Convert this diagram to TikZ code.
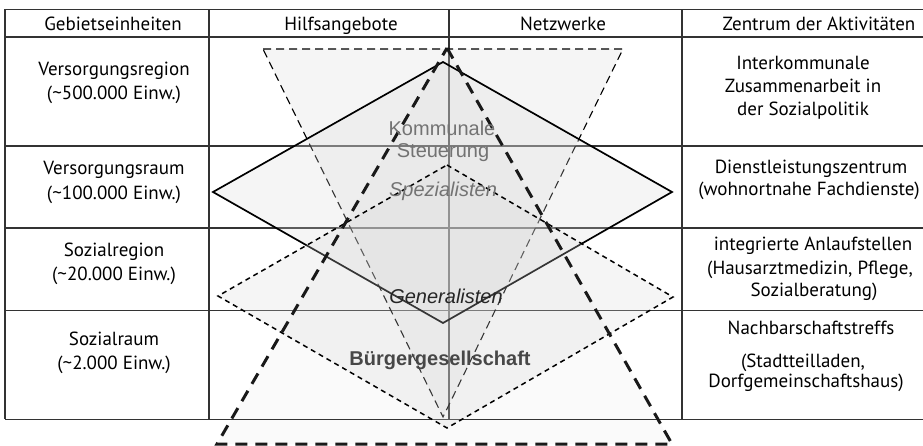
\documentclass[tikz,border=0pt]{standalone}
\usepackage{fontspec}
\setmainfont{PT Sans}
\newfontfamily\helv{Liberation Sans}
\usepackage[]{xcolor}
\usepackage[]{tikz}

\begin{document}
\begin{tikzpicture}[x=1pt,y=-1pt,
    tabline/.style={draw=black!80,line width=1.2pt},
    cell/.style={anchor=base,inner sep=0pt,text=black,font=\fontsize{19}{23}\selectfont},
    flaeche/.style={fill=black!15,fill opacity=0.25},
    mitte/.style={anchor=base,inner sep=0pt,font=\helv\fontsize{20}{24}\selectfont}]
    \useasboundingbox (0,0) rectangle (923,446);
    % 定点
    \coordinate (T1) at (447,48);
    \coordinate (T2) at (672,444);
    \coordinate (T3) at (217,444);
    \coordinate (V1) at (263,49);
    \coordinate (V2) at (623,49);
    \coordinate (V3) at (443,417);
    \coordinate (D1) at (443,62);
    \coordinate (D2) at (672,192);
    \coordinate (D3) at (443,323);
    \coordinate (D4) at (213,192);
    \coordinate (E1) at (447,165);
    \coordinate (E2) at (673,297);
    \coordinate (E3) at (447,428);
    \coordinate (E4) at (218,296);
    % 底色
    \fill [black!2] (T1) -- (T2) -- (T3) -- cycle;
    % 表格
    \foreach \y in {9.3,37,146,228,310.5,419.3}
        \draw [tabline] (5,\y) -- (923,\y);
    \foreach \x in {5,209,449,682}
        \draw [tabline] (\x,9.3) -- (\x,419.3);
    % 图形
    \filldraw [flaeche,draw=black,line width=1.1pt,dash pattern=on 8pt off 5pt] (V1) -- (V2) -- (V3) -- cycle;
    \filldraw [flaeche,draw=black,line width=1.7pt] (D1) -- (D2) -- (D3) -- (D4) -- cycle;
    \filldraw [flaeche,draw=black,line width=1.5pt,dash pattern=on 5pt off 4pt] (E1) -- (E2) -- (E3) -- (E4) -- cycle;
    \draw [black!90,line width=3pt,dash pattern=on 12pt off 8pt] (T1) -- (T2) -- (T3) -- cycle;
    % 表头
    \node [cell] (h1) at (113,31) {Gebietseinheiten};
    \node [cell] (h2) at (341,31) {Hilfsangebote};
    \node [cell] (h3) at (563,31) {Netzwerke};
    \node [cell] (h4) at (819,31) {Zentrum der Aktivitäten};
    % 左列
    \node [cell] (g1a) at (114,76) {Versorgungsregion};
    \node [cell] (g1b) at (114,100) {(\textasciitilde500.000 Einw.)};
    \node [cell] (g2a) at (114,175) {Versorgungsraum};
    \node [cell] (g2b) at (114,200) {(\textasciitilde100.000 Einw.)};
    \node [cell] (g3a) at (114,257) {Sozialregion};
    \node [cell] (g3b) at (114,280) {(\textasciitilde20.000 Einw.)};
    \node [cell] (g4a) at (114,345) {Sozialraum};
    \node [cell] (g4b) at (114,369) {(\textasciitilde2.000 Einw.)};
    % 右列
    \node [cell] (z1a) at (803,70) {Interkommunale};
    \node [cell] (z1b) at (803,93) {Zusammenarbeit in};
    \node [cell] (z1c) at (803,116) {der Sozialpolitik};
    \node [cell] (z2a) at (811,174) {Dienstleistungszentrum};
    \node [cell] (z2b) at (809,196) {(wohnortnahe Fachdienste)};
    \node [cell] (z3a) at (813,251) {integrierte Anlaufstellen};
    \node [cell] (z3b) at (810,275) {(Hausarztmedizin, Pflege,};
    \node [cell] (z3c) at (814,296) {Sozialberatung)};
    \node [cell] (z4a) at (811,334) {Nachbarschaftstreffs};
    \node [cell] (z4b) at (803,367) {(Stadtteilladen,};
    \node [cell] (z4c) at (806,387) {Dorfgemeinschaftshaus)};
    % 中间文字
    \node [mitte,text=black!55] (ks) at (442,136) {Kommunale};
    \node [mitte,text=black!55] (st) at (443,158) {Steuerung};
    \node [mitte,text=black!55,font=\helv\itshape\fontsize{20}{24}\selectfont] (sp) at (443,197) {Spezialisten};
    \node [mitte,text=black!85,font=\helv\itshape\fontsize{20}{24}\selectfont] (ge) at (446,303) {Generalisten};
    \node [mitte,text=black!72,font=\helv\bfseries\fontsize{20}{24}\selectfont] (bg) at (440,365) {Bürgergesellschaft};
\end{tikzpicture}
\end{document}
